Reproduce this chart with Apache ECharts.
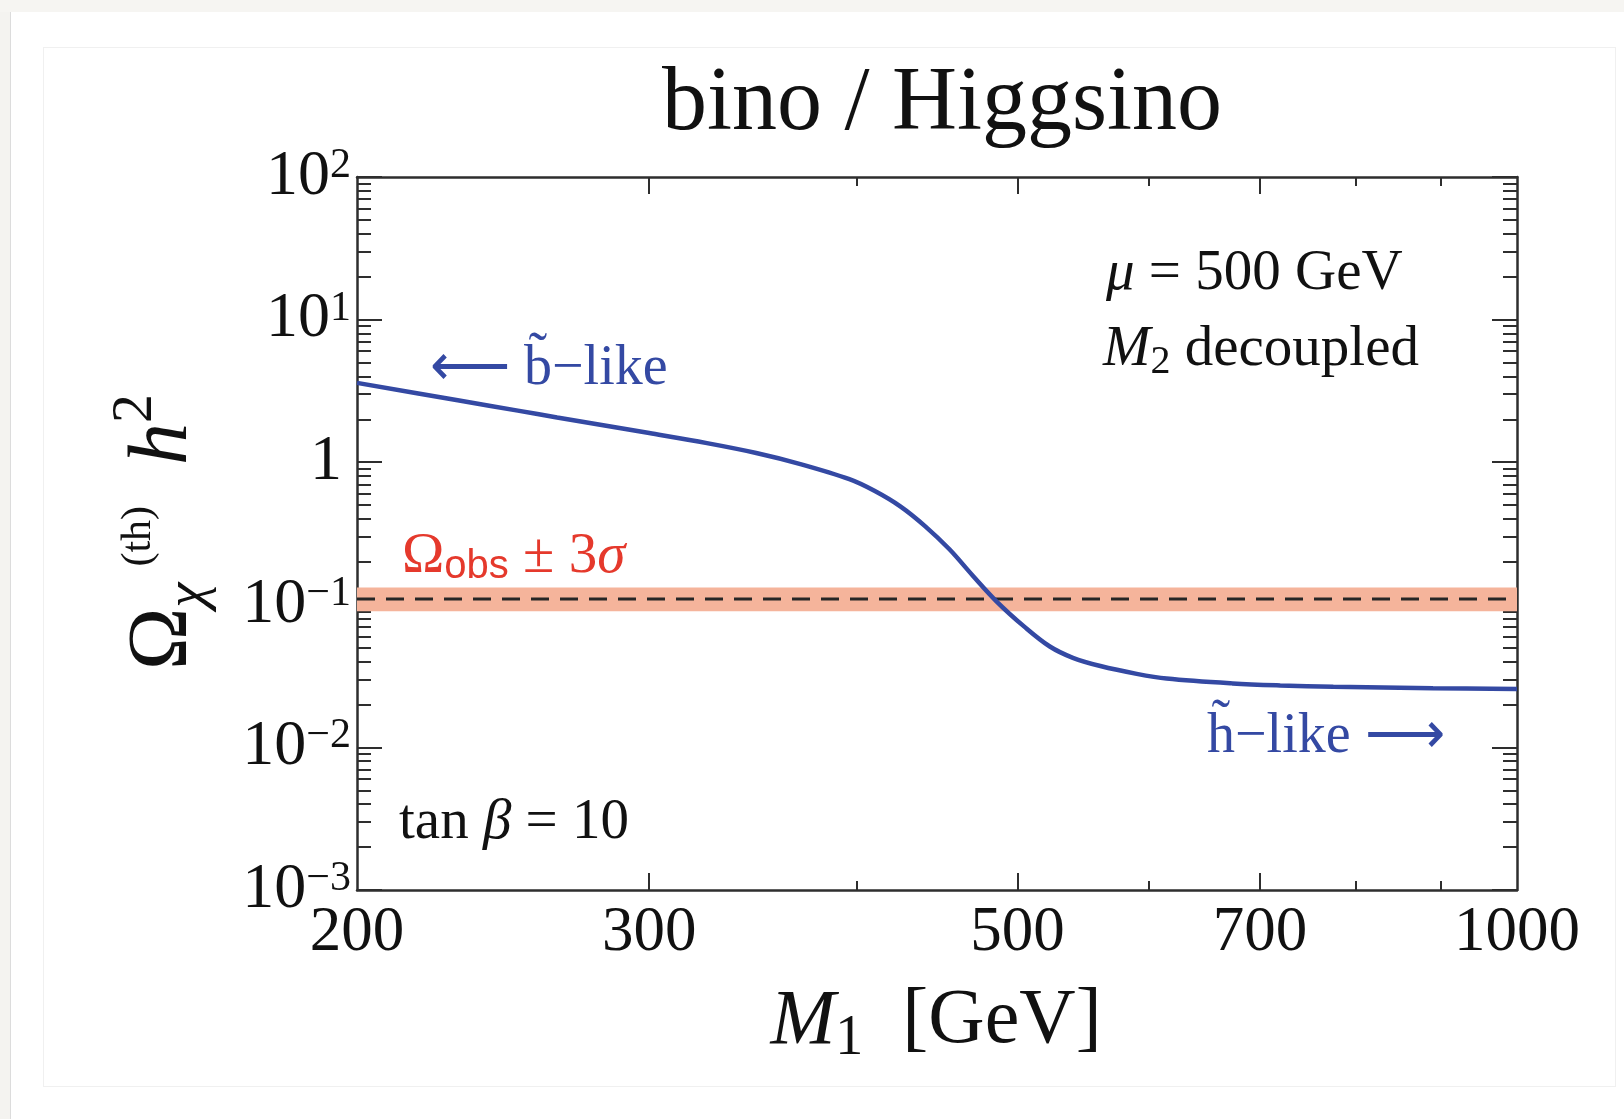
<!DOCTYPE html>
<html>
<head>
<meta charset="utf-8">
<title>bino / Higgsino</title>
<script src="https://cdn.jsdelivr.net/npm/echarts@6/dist/echarts.min.js"></script>
<style>
  html, body { margin: 0; padding: 0; background: #fff; }
  .topbar { position: absolute; left: 0; top: 0; width: 1624px; height: 12px; background: #f6f5f2; }
  .leftbar { position: absolute; left: 0; top: 12px; width: 10px; height: 1107px; background: #f4f3f0; border-right: 1px solid #dcdcdc; }
  .card { position: absolute; left: 43px; top: 47px; width: 1573px; height: 1040px; border: 1px solid #f0f0f0; box-sizing: border-box; }
  #chart { position: absolute; left: 0; top: 0; width: 1624px; height: 1119px; }
</style>
</head>
<body>
<div class="topbar"></div>
<div class="leftbar"></div>
<div class="card"></div>
<div id="chart"></div>
<script>
// M1 [GeV] along the curve
const m1Values = [200, 230, 250, 264, 300, 325, 348, 370, 396, 410, 425, 440, 455, 470, 486, 505, 523, 540, 561, 590, 615, 674, 720, 775, 890, 1000]
// relic density Omega h^2
const omegaValues = [3.6, 2.72, 2.3, 2.06, 1.6, 1.36, 1.16, 0.97, 0.76, 0.63, 0.49, 0.355, 0.245, 0.16, 0.105, 0.07, 0.051, 0.0425, 0.0372, 0.0328, 0.0304, 0.0281, 0.0272, 0.0266, 0.026, 0.0257]
// observed value and the +-3 sigma band
const obsCentral = 0.11
const obsBand = [0.09, 0.132]

const xRange = [200, 1000]
const yRange = [0.001, 100]
const xTickLabels = [200, 300, 500, 700, 1000]
const xMajorTicks = [300, 500, 700]
const xMinorTicks = [400, 600, 800, 900]
const yDecades = [-3, -2, -1, 0, 1, 2]

const lg = Math.log10
const serif = "'Liberation Serif', 'Times New Roman', serif"
const sans = "'Liberation Sans', Arial, sans-serif"
const frameColor = '#2e2e2e'
const blue = '#3449a3'
const red = '#e5392c'
const noteSize = 57

let yMinorTicks = []
for (let n = -3; n < 2; n++) {
  for (let k = 2; k <= 9; k++) yMinorTicks.push(lg(k) + n)
}

// value axes in log10 space, only used to draw the frame, ticks and labels
function tickAxis (position, min, max, ticks, length, extra) {
  return Object.assign({
    type: 'value',
    position: position,
    min: min,
    max: max,
    axisLine: { show: false, onZero: false },
    axisTick: { show: true, inside: true, length: length, customValues: ticks, lineStyle: { color: frameColor, width: 2 } },
    axisLabel: { show: false },
    splitLine: { show: false }
  }, extra)
}

function note (x, y, text, rich, color) {
  return {
    type: 'text',
    x: x,
    y: y,
    style: { text: text, verticalAlign: 'middle', fill: color || '#111', rich: rich }
  }
}

const frameLine = { show: true, onZero: false, lineStyle: { color: frameColor, width: 2.5 } }
const xMin = lg(xRange[0])
const xMax = lg(xRange[1])
const yMin = lg(yRange[0])
const yMax = lg(yRange[1])
const plain = { fontFamily: serif, fontSize: noteSize, lineHeight: noteSize }
const italic = { fontFamily: serif, fontStyle: 'italic', fontSize: noteSize, lineHeight: noteSize }

let chart = echarts.init(document.getElementById('chart'))

let option = {
  animation: false,
  title: {
    text: 'bino / Higgsino',
    left: 937,
    top: 100,
    textAlign: 'center',
    textVerticalAlign: 'middle',
    textStyle: { fontFamily: serif, fontSize: 90, fontWeight: 'normal', color: '#111' }
  },
  grid: { left: 357, top: 177, right: 107, bottom: 229, containLabel: false, outerBoundsMode: 'none' },
  xAxis: [
    { type: 'log', min: xRange[0], max: xRange[1], show: false },
    tickAxis('bottom', xMin, xMax, xMajorTicks.map(lg), 17, {
      axisLine: frameLine,
      axisLabel: {
        show: true,
        customValues: xTickLabels.map(lg),
        margin: 12,
        fontFamily: serif,
        fontSize: 63,
        color: '#111',
        formatter: v => String(Math.round(Math.pow(10, v)))
      }
    }),
    tickAxis('bottom', xMin, xMax, xMinorTicks.map(lg), 9),
    tickAxis('top', xMin, xMax, xMajorTicks.map(lg), 17, { axisLine: frameLine }),
    tickAxis('top', xMin, xMax, xMinorTicks.map(lg), 9)
  ],
  yAxis: [
    { type: 'log', min: yRange[0], max: yRange[1], show: false },
    tickAxis('left', yMin, yMax, yDecades, 25, {
      axisLine: frameLine,
      axisLabel: {
        show: true,
        customValues: yDecades,
        margin: 6,
        color: '#111',
        formatter: v => {
          let n = Math.round(v)
          if (n === 0) return '{one|1}'
          return '{b|10}{s|' + (n < 0 ? '\u2212' + (-n) : n) + '}'
        },
        rich: {
          b: { fontFamily: serif, fontSize: 64, lineHeight: 64, color: '#111' },
          s: { fontFamily: serif, fontSize: 42, lineHeight: 42, color: '#111', padding: [0, 0, 22, 0] },
          one: { fontFamily: serif, fontSize: 64, lineHeight: 64, color: '#111', padding: [0, 9, 0, 0] }
        }
      }
    }),
    tickAxis('left', yMin, yMax, yMinorTicks, 14),
    tickAxis('right', yMin, yMax, yDecades, 25, { axisLine: frameLine }),
    tickAxis('right', yMin, yMax, yMinorTicks, 14)
  ],
  series: [
    {
      name: 'obs',
      type: 'line',
      xAxisIndex: 0,
      yAxisIndex: 0,
      symbol: 'none',
      z: 2,
      data: [[xRange[0], obsCentral], [xRange[1], obsCentral]],
      lineStyle: { color: '#262626', width: 3, type: [18, 11] },
      markArea: {
        silent: true,
        itemStyle: { color: '#f5b49b' },
        data: [[{ coord: [xRange[0], obsBand[0]] }, { coord: [xRange[1], obsBand[1]] }]]
      }
    },
    {
      name: 'relic',
      type: 'line',
      xAxisIndex: 0,
      yAxisIndex: 0,
      symbol: 'none',
      smooth: 0.35,
      z: 3,
      data: m1Values.map((m, i) => [m, omegaValues[i]]),
      lineStyle: { color: blue, width: 4.5 }
    }
  ],
  graphic: [
    {
      type: 'text',
      x: 164,
      y: 532,
      rotation: Math.PI / 2,
      style: {
        text: '{o|\u03a9}{c|\u03c7}{t|(th)}{o| }{h|h}{q|2}',
        align: 'center',
        verticalAlign: 'middle',
        fill: '#111',
        rich: {
          o: { fontFamily: serif, fontSize: 84, lineHeight: 84 },
          c: { fontFamily: serif, fontStyle: 'italic', fontSize: 57, lineHeight: 57, padding: [50, 0, 0, 0] },
          t: { fontFamily: serif, fontSize: 42, lineHeight: 42, padding: [0, 0, 50, 16] },
          h: { fontFamily: serif, fontStyle: 'italic', fontSize: 84, lineHeight: 84, padding: [0, 0, 0, 20] },
          q: { fontFamily: serif, fontSize: 58, lineHeight: 58, padding: [0, 0, 56, 0] }
        }
      }
    },
    {
      type: 'text',
      x: 936,
      y: 1022,
      style: {
        text: '{i|M}{s|1}{a|  [GeV]}',
        align: 'center',
        verticalAlign: 'middle',
        fill: '#111',
        rich: {
          i: { fontFamily: serif, fontStyle: 'italic', fontSize: 78, lineHeight: 78 },
          s: { fontFamily: serif, fontSize: 56, lineHeight: 56, padding: [34, 0, 0, 0] },
          a: { fontFamily: serif, fontSize: 78, lineHeight: 78 }
        }
      }
    },
    {
      type: 'text',
      x: 430,
      y: 369,
      style: { text: '\u27f5 b\u0303\u2212like', fontFamily: serif, fontSize: 56, fill: blue, verticalAlign: 'middle' }
    },
    {
      type: 'text',
      x: 1207,
      y: 737,
      style: { text: 'h\u0303\u2212like \u27f6', fontFamily: serif, fontSize: 56, fill: blue, verticalAlign: 'middle' }
    },
    note(402, 557, '{o|\u03a9}{s|obs}{o| \u00b1 3}{i|\u03c3}', {
      o: plain,
      s: { fontFamily: sans, fontSize: 40, lineHeight: 40, padding: [20, 0, 0, 0] },
      i: italic
    }, red),
    note(1106, 274, '{i|\u03bc}{a| = 500 GeV}', { i: italic, a: plain }),
    note(1103, 350, '{i|M}{s|2}{a| decoupled}', {
      i: italic,
      s: { fontFamily: serif, fontSize: 40, lineHeight: 40, padding: [24, 0, 0, 0] },
      a: plain
    }),
    note(399, 823, '{a|tan }{i|\u03b2}{a| = 10}', { i: italic, a: plain })
  ]
}

chart.setOption(option)
</script>
</body>
</html>
